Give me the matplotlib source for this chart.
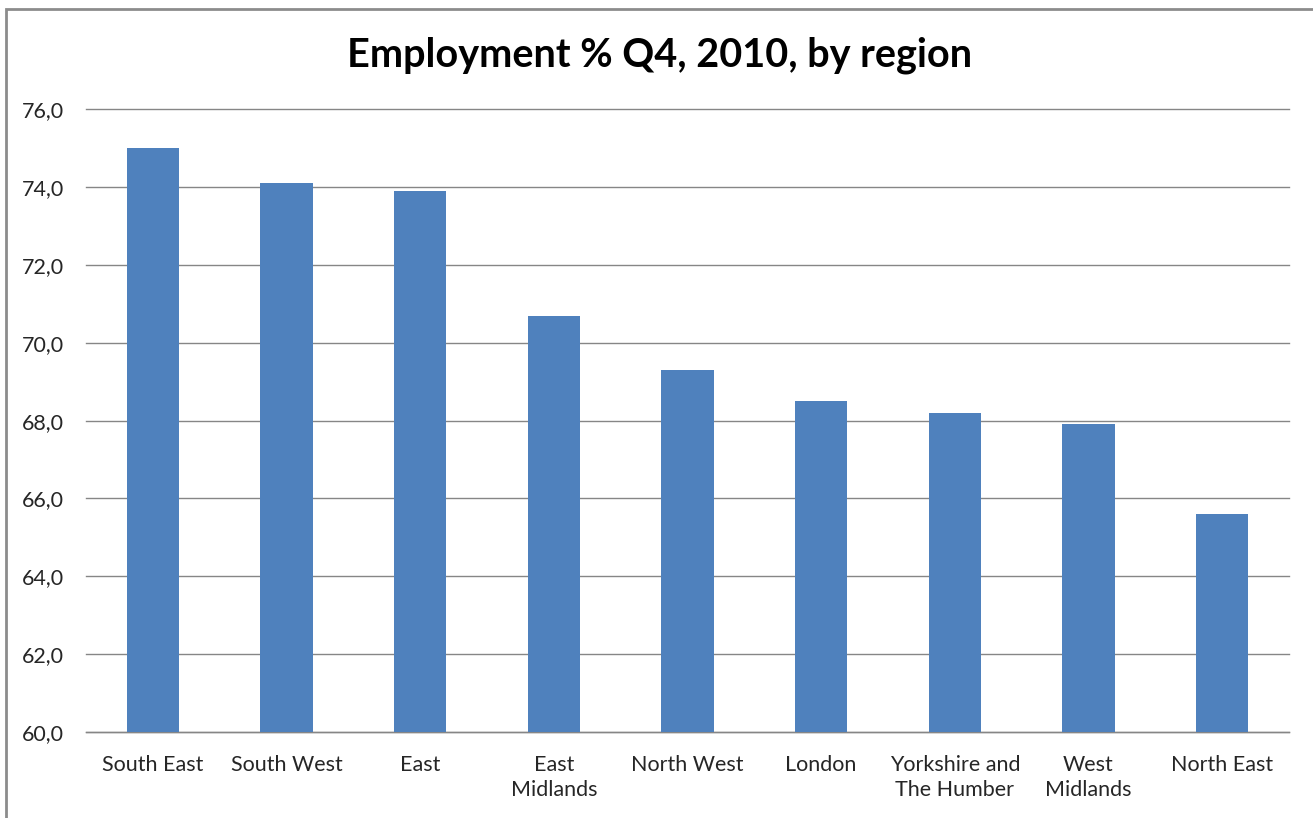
import matplotlib
matplotlib.use("Agg")
import matplotlib.pyplot as plt
from matplotlib.patches import Rectangle
from matplotlib.ticker import FuncFormatter

regions = ["South East", "South West", "East", "East\nMidlands", "North West",
           "London", "Yorkshire and\nThe Humber", "West\nMidlands", "North East"]
employment = [75.0, 74.1, 73.9, 70.7, 69.3, 68.5, 68.2, 67.9, 65.6]
yticks = [60, 62, 64, 66, 68, 70, 72, 74, 76]

plt.rcParams['font.family'] = ['Lato', 'DejaVu Sans']

fig = plt.figure(figsize=(13.13, 8.18), dpi=100)
ax = fig.add_axes([86/1313, 1-731.7/818, (1289-86)/1313, (731.7-109.5)/818])

x = list(range(len(regions)))
ax.bar(x, employment, width=0.39, color="#4f81bd", zorder=3)
ax.set_xlim(-0.5, len(regions)-0.5)
ax.set_ylim(60, 76)
ax.set_yticks(yticks)
ax.yaxis.set_major_formatter(FuncFormatter(lambda v, p: f"{v:.1f}".replace(".", ",")))
ax.set_xticks(x)
ax.set_xticklabels(regions, fontsize=15.5, color="#262626", linespacing=1.3)
ax.tick_params(axis='y', labelsize=15.5, colors="#262626", length=0, pad=16)
ax.tick_params(axis='x', length=0, pad=17)
ax.grid(axis='y', color="#868686", linewidth=1, zorder=0)
for gl in ax.get_ygridlines():
    gl.set_clip_on(False)
for s in ["top", "right", "left"]:
    ax.spines[s].set_visible(False)
ax.spines["bottom"].set_color("#868686")
ax.spines["bottom"].set_linewidth(1)

fig.text(660/1313, 1-55/818, "Employment % Q4, 2010, by region", ha="center", va="center",
         fontsize=28.5, fontweight="bold", color="black")

fig.patches.append(Rectangle((6/1313, -0.01), 1.02, 1-9/818+0.01, transform=fig.transFigure,
                             fill=False, edgecolor="#8c8c8c", linewidth=2))

fig.savefig("out.png", dpi=100)
